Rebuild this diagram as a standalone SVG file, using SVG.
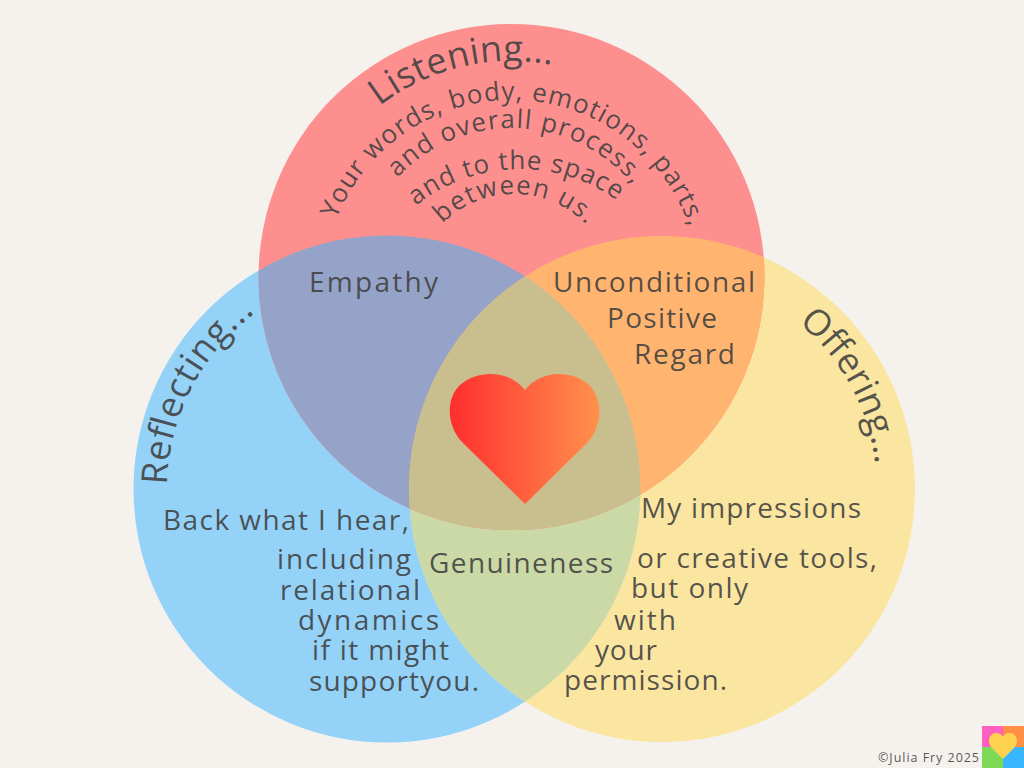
<svg xmlns="http://www.w3.org/2000/svg" width="1024" height="768" viewBox="0 0 1024 768">
<style>
text{font-family:"Open Sans","Noto Sans","Liberation Sans",sans-serif;fill:#3f3f3f;fill-opacity:.88}
.m{font-size:28px}
.h{font-size:36px}
.s{font-size:26px}
.c{font-size:12.5px}
</style>
<defs>
<clipPath id="cL"><circle cx="387" cy="489" r="253.5"/></clipPath>
<clipPath id="cR"><circle cx="662" cy="489" r="253"/></clipPath>
<clipPath id="cLR" clip-path="url(#cL)"><circle cx="662" cy="489" r="253"/></clipPath>
<linearGradient id="hg" x1="0" x2="1" y1="0" y2="0"><stop offset="0" stop-color="#ff2e2e"/><stop offset="1" stop-color="#ff914d"/></linearGradient>
<path id="a1" d="M 295.5 277 A 216 216 0 0 1 727.5 277"/>
<path id="a2" d="M 323.5 288 A 188 188 0 0 1 699.5 288"/>
<path id="a3" d="M 355 285 A 157 157 0 0 1 669 285"/>
<path id="a4" d="M 354 335 A 166 166 0 0 1 686 335"/>
<path id="a5" d="M 413 295 A 101 101 0 0 1 615 295"/>
<path id="a6" d="M 167 489 A 220 220 0 0 1 607 489"/>
<path id="a7" d="M 447 489 A 215 215 0 0 1 877 489"/>
</defs>
<rect id="background" width="1024" height="768" fill="#f5f2ee"/>
<g id="venn">
<circle id="circle-left" cx="387" cy="489" r="253.5" fill="#94d2f7"/>
<circle id="circle-right" cx="662" cy="489" r="253" fill="#fae6a0"/>
<circle id="overlap-left-right" cx="662" cy="489" r="253" fill="#cbd9a6" clip-path="url(#cL)"/>
<circle id="circle-top" cx="511.5" cy="277" r="253" fill="#fe8f8f"/>
<circle id="overlap-top-left" cx="511.5" cy="277" r="253" fill="#96a3c8" clip-path="url(#cL)"/>
<circle id="overlap-top-right" cx="511.5" cy="277" r="253" fill="#ffb570" clip-path="url(#cR)"/>
<circle id="overlap-centre" cx="511.5" cy="277" r="253" fill="#c9bf8e" clip-path="url(#cLR)"/>
</g>
<g id="heart"><path d="M525 504 L462 442 C446 425 446 398 460 385 C478 369 510 370 525 390 C540 370 572 369 589 385 C603 398 603 425 588 442 Z" fill="url(#hg)"/></g>
<g id="listening">
<text class="h"><textPath href="#a1" startOffset="197" textLength="183">Listening...</textPath></text>
<text class="s"><textPath href="#a2" startOffset="70" textLength="458">Your words, body, emotions, parts,</textPath></text>
<text class="s"><textPath href="#a3" startOffset="118" textLength="266">and overall process,</textPath></text>
<text class="s"><textPath href="#a4" startOffset="148" textLength="216">and to the space</textPath></text>
<text class="s"><textPath href="#a5" startOffset="79" textLength="160">between us.</textPath></text>
</g>
<g id="reflecting"><text class="h"><textPath href="#a6" startOffset="4" textLength="200">Reflecting...</textPath></text></g>
<g id="offering"><text class="h"><textPath href="#a7" startOffset="485" textLength="165">Offering...</textPath></text></g>
<g id="empathy"><text class="m" x="309" y="292" textLength="129">Empathy</text></g>
<g id="upr">
<text class="m" x="553" y="292" textLength="202">Unconditional</text>
<text class="m" x="607" y="328" textLength="110">Positive</text>
<text class="m" x="634" y="364" textLength="101">Regard</text>
</g>
<g id="genuineness"><text class="m" x="429" y="573" textLength="184">Genuineness</text></g>
<g id="reflecting-text">
<text class="m" x="163" y="530" textLength="246">Back what I hear,</text>
<text class="m" x="277" y="569" textLength="134">including</text>
<text class="m" x="280" y="600" textLength="140">relational</text>
<text class="m" x="298" y="630" textLength="141">dynamics</text>
<text class="m" x="312" y="660" textLength="137">if it might</text>
<text class="m" x="309" y="691" textLength="170">supportyou.</text>
</g>
<g id="offering-text">
<text class="m" x="641" y="518" textLength="220">My impressions</text>
<text class="m" x="637" y="568" textLength="240">or creative tools,</text>
<text class="m" x="631" y="598" textLength="117">but only</text>
<text class="m" x="614" y="630" textLength="62">with</text>
<text class="m" x="595" y="660" textLength="62">your</text>
<text class="m" x="564" y="690" textLength="163">permission.</text>
</g>
<g id="credit"><text class="c" x="878" y="762" textLength="101">©Julia Fry 2025</text></g>
<g id="logo">
<rect x="982" y="726" width="21" height="21" fill="#ff5fc0"/>
<rect x="1003" y="726" width="21" height="21" fill="#ff8f45"/>
<rect x="982" y="747" width="21" height="21" fill="#7ed957"/>
<rect x="1003" y="747" width="21" height="21" fill="#38b6ff"/>
<path d="M1003 759 L992 748 C986 741 990 733 996 733 C1000 733 1002 735 1003 737 C1004 735 1006 733 1010 733 C1016 733 1020 741 1014 748 Z" fill="#ffd34f"/>
</g>
</svg>
